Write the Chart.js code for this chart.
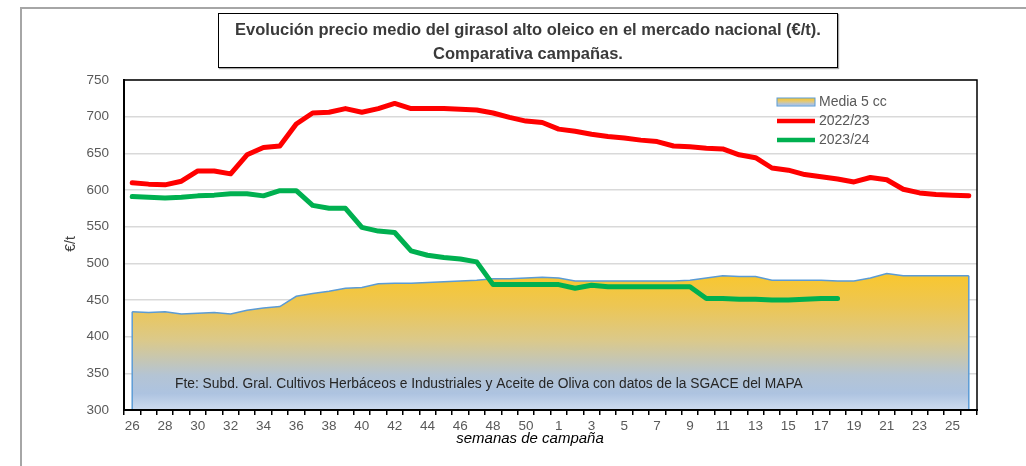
<!DOCTYPE html>
<html>
<head>
<meta charset="utf-8">
<script src="https://cdn.jsdelivr.net/npm/chart.js@4.4.1/dist/chart.umd.min.js"></script>
<style>
  html, body { margin: 0; padding: 0; background: #fff; }
  #wrap { position: relative; width: 1026px; height: 466px; overflow: hidden; font-family: "Liberation Sans", Arial, sans-serif; }
  #frame { position: absolute; left: 20px; top: 7px; width: 1010px; height: 480px; box-sizing: border-box;
           border-left: 2px solid #a6a6a6; border-top: 2px solid #a6a6a6; }
  #chart { position: absolute; left: 0; top: 0; }
  #title { position: absolute; left: 218px; top: 13px; width: 620px; height: 55px; box-sizing: border-box;
           border: 1.5px solid #000; box-shadow: 1px 1px 1px rgba(0,0,0,0.35); background: #fff;
           text-align: center; font-weight: bold; font-size: 16.5px; color: #3a3a3a; line-height: 24px; padding-top: 3px;
           white-space: nowrap; }
</style>
</head>
<body>
<div id="wrap">
  <div id="frame"></div>
  <canvas id="chart" width="1026" height="466"></canvas>
  <div id="title">Evolución precio medio del girasol alto oleico en el mercado nacional (€/t).<br>Comparativa campañas.</div>
</div>
<script>
// semanas de campaña: 26..51 y luego 1..26
const weeks = [26, 27, 28, 29, 30, 31, 32, 33, 34, 35, 36, 37, 38, 39, 40, 41, 42, 43, 44, 45, 46, 47, 48, 49, 50, 51,
  1, 2, 3, 4, 5, 6, 7, 8, 9, 10, 11, 12, 13, 14, 15, 16, 17, 18, 19, 20, 21, 22, 23, 24, 25, 26];

const media5cc = [434, 433, 434, 431, 432, 433, 431, 436, 439, 441, 455, 459, 462, 466, 467, 472, 473, 473,
  474, 475, 476, 477, 479, 479, 480, 481, 480, 476, 476, 476, 476, 476, 476, 476, 477, 480, 483, 482,
  482, 477, 477, 477, 477, 476, 476, 480, 486, 483, 483, 483, 483, 483];

const camp2223 = [610, 608, 607, 612, 626, 626, 622, 648, 658, 660, 690, 705, 706, 711, 706, 711, 718, 711,
  711, 711, 710, 709, 705, 699, 694, 692, 683, 680, 676, 673, 671, 668, 666, 660, 659, 657, 656, 648,
  644, 630, 627, 621, 618, 615, 611, 617, 614, 601, 596, 594, 593, 592];

const camp2324 = [591, 590, 589, 590, 592, 593, 595, 595, 592, 599, 599, 579, 575, 575, 549, 544, 542, 517,
  511, 508, 506, 502, 471, 471, 471, 471, 471, 466, 470, 468, 468, 468, 468, 468, 468, 452, 452, 451,
  451, 450, 450, 451, 452, 452];

const yMin = 300, yMax = 750, yStep = 50;

const tickFont = { family: "'Liberation Sans', Arial, sans-serif", size: 13.5 };
const grey = "#595959";
const lineBlue = "#5b9bd5";

function areaGradient(ctx, top, bottom) {
  let g = ctx.createLinearGradient(0, top, 0, bottom);
  g.addColorStop(0, "#fac72a");
  g.addColorStop(0.25, "#edc653");
  g.addColorStop(0.5, "#dbc98a");
  g.addColorStop(0.75, "#b4c4d4");
  g.addColorStop(0.88, "#adc3e0");
  g.addColorStop(1, "#cddbef");
  return g;
}

const extras = {
  id: "extras",
  afterDatasetsDraw(chart) {
    const { ctx, chartArea, scales } = chart;
    const y = scales.y;

    // bordes verticales del área media
    let pts = chart.getDatasetMeta(2).data;
    ctx.save();
    ctx.strokeStyle = lineBlue;
    ctx.lineWidth = 1.5;
    [pts[0], pts[pts.length - 1]].forEach(p => {
      ctx.beginPath();
      ctx.moveTo(p.x, p.y);
      ctx.lineTo(p.x, y.getPixelForValue(yMin));
      ctx.stroke();
    });

    // marco del área de trazado
    ctx.strokeStyle = "#000";
    ctx.lineWidth = 1.5;
    ctx.beginPath();
    ctx.moveTo(chartArea.left, chartArea.top);
    ctx.lineTo(chartArea.right, chartArea.top);
    ctx.lineTo(chartArea.right, chartArea.bottom);
    ctx.stroke();
    ctx.lineWidth = 2;
    ctx.beginPath();
    ctx.moveTo(chartArea.left, chartArea.top);
    ctx.lineTo(chartArea.left, chartArea.bottom);
    ctx.lineTo(chartArea.right + 1, chartArea.bottom);
    ctx.stroke();

    // fuente
    ctx.fillStyle = "#262626";
    ctx.font = "13.8px 'Liberation Sans', Arial, sans-serif";
    ctx.textBaseline = "middle";
    ctx.textAlign = "left";
    ctx.fillText("Fte: Subd. Gral. Cultivos Herbáceos e Industriales y Aceite de Oliva con datos de la SGACE del MAPA",
      chartArea.left + 51, y.getPixelForValue(335));

    // leyenda
    let lx = 777, lw = 38, tx = 819;
    let rows = [102, 121, 140];
    ctx.font = "14px 'Liberation Sans', Arial, sans-serif";
    let g = areaGradient(ctx, rows[0] - 4, rows[0] + 4);
    ctx.fillStyle = g;
    ctx.fillRect(lx, rows[0] - 4, lw, 8);
    ctx.strokeStyle = lineBlue;
    ctx.lineWidth = 1;
    ctx.strokeRect(lx, rows[0] - 4, lw, 8);
    ctx.lineWidth = 4.5;
    ctx.lineCap = "butt";
    ctx.strokeStyle = "#ff0000";
    ctx.beginPath(); ctx.moveTo(lx, rows[1]); ctx.lineTo(lx + lw, rows[1]); ctx.stroke();
    ctx.strokeStyle = "#00b050";
    ctx.beginPath(); ctx.moveTo(lx, rows[2]); ctx.lineTo(lx + lw, rows[2]); ctx.stroke();
    ctx.fillStyle = grey;
    ctx.fillText("Media 5 cc", tx, rows[0]);
    ctx.fillText("2022/23", tx, rows[1]);
    ctx.fillText("2023/24", tx, rows[2]);

    // títulos de ejes
    ctx.fillStyle = "#404040";
    ctx.font = "14px 'Liberation Sans', Arial, sans-serif";
    ctx.save();
    ctx.translate(71, 244);
    ctx.rotate(-Math.PI / 2);
    ctx.textAlign = "center";
    ctx.fillText("€/t", 0, 0);
    ctx.restore();

    ctx.fillStyle = "#000";
    ctx.font = "italic 15px 'Liberation Sans', Arial, sans-serif";
    ctx.textAlign = "center";
    ctx.fillText("semanas de campaña", 530, 439);
    ctx.restore();
  }
};

new Chart(document.getElementById("chart"), {
  type: "line",
  data: {
    labels: weeks,
    datasets: [
      {
        label: "2022/23",
        data: camp2223,
        borderColor: "#ff0000",
        borderWidth: 5,
        pointRadius: 0,
        tension: 0,
        borderJoinStyle: "round",
        borderCapStyle: "round",
        fill: false
      },
      {
        label: "2023/24",
        data: camp2324,
        borderColor: "#00b050",
        borderWidth: 5,
        pointRadius: 0,
        tension: 0,
        borderJoinStyle: "round",
        borderCapStyle: "round",
        fill: false
      },
      {
        label: "Media 5 cc",
        data: media5cc,
        borderColor: lineBlue,
        borderWidth: 1.5,
        pointRadius: 0,
        tension: 0,
        fill: "start",
        backgroundColor: (context) => {
          const { chart } = context;
          if (!chart.chartArea) return "#f5c634";
          const y = chart.scales.y;
          return areaGradient(chart.ctx, y.getPixelForValue(490), y.getPixelForValue(yMin));
        }
      }
    ]
  },
  options: {
    responsive: false,
    animation: false,
    layout: { padding: { left: 0, top: 80, right: 49, bottom: 0 } },
    plugins: {
      legend: { display: false },
      tooltip: { enabled: false },
      title: { display: false }
    },
    scales: {
      x: {
        offset: true,
        afterFit: (scale) => { scale.height = 56; },
        grid: {
          display: true,
          offset: true,
          drawOnChartArea: false,
          drawTicks: true,
          tickLength: 5,
          color: "#000",
          lineWidth: 1.5
        },
        border: { display: true, color: "#000", width: 2 },
        ticks: {
          autoSkip: false,
          maxRotation: 0,
          minRotation: 0,
          padding: 3,
          color: grey,
          font: tickFont,
          callback: function (value, index) {
            return (index % 2 === 0 && index < weeks.length - 1) ? String(weeks[index]) : "";
          }
        }
      },
      y: {
        min: yMin,
        max: yMax,
        afterFit: (scale) => { scale.width = 124; },
        grid: { color: "#d9d9d9", lineWidth: 1.5, drawTicks: false },
        border: { display: true, color: "#000", width: 2 },
        ticks: { stepSize: yStep, padding: 15, color: grey, font: tickFont }
      }
    }
  },
  plugins: [extras]
});
</script>
</body>
</html>
